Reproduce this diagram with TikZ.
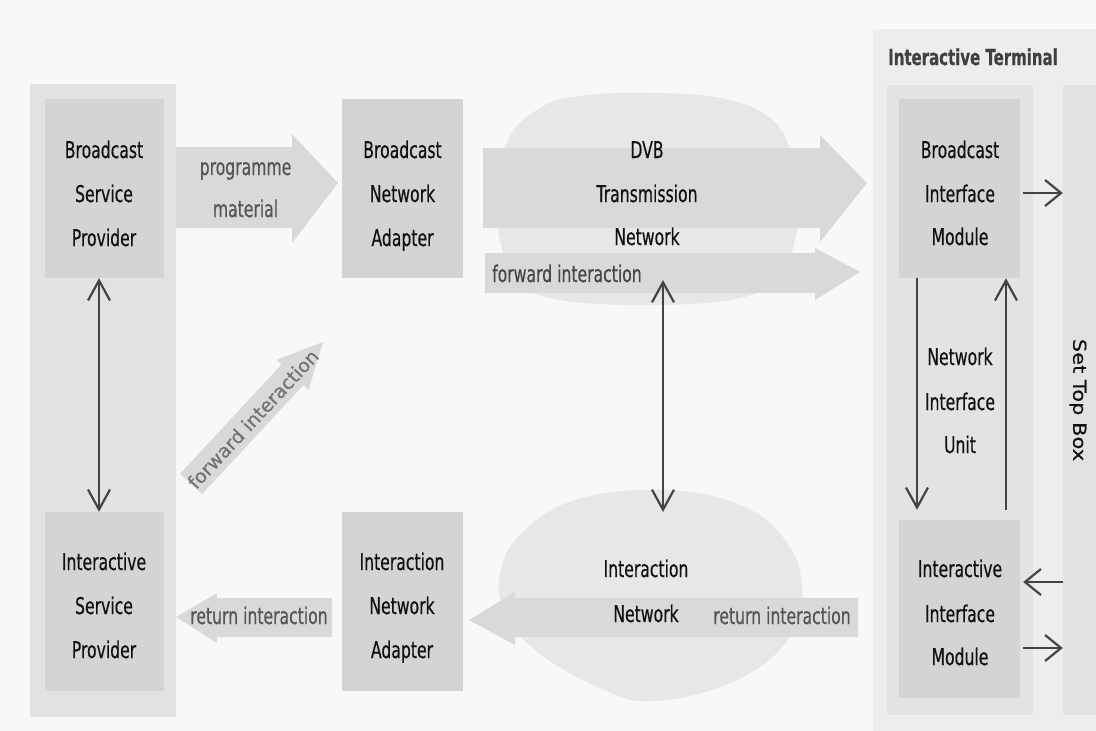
\documentclass[tikz,border=0pt]{standalone}
\usepackage{fontspec}
\usepackage{graphicx}
\setmainfont{DejaVu Sans}[FakeStretch=0.68,FakeBold=0.4]
\newfontfamily\plainfont{DejaVu Sans}[FakeBold=0.3]
\usetikzlibrary{arrows.meta}
\definecolor{bgc}{HTML}{F8F8F8}
\definecolor{colc}{HTML}{E2E2E2}
\definecolor{boxc}{HTML}{D4D4D4}
\definecolor{itc}{HTML}{EDEDED}
\definecolor{niuc}{HTML}{E3E3E3}
\definecolor{stbc}{HTML}{E2E2E2}
\definecolor{eggc}{HTML}{E7E7E7}
\definecolor{barc}{HTML}{D9D9D9}
\definecolor{txtc}{HTML}{111111}
\definecolor{lblc}{HTML}{555555}
\definecolor{linec}{HTML}{444444}
\tikzset{
  boxst/.style={fill=boxc, draw=none, inner sep=0pt, minimum width=120pt, minimum height=179pt},
  txt/.style={font=\fontsize{23}{27}\selectfont, text=txtc, inner sep=0pt, anchor=base},
  lbl/.style={font=\fontsize{23}{27}\selectfont, text=lblc, inner sep=0pt, anchor=base},
  lnk/.style={draw=linec, line width=2.2pt},
  vtip/.tip={Straight Barb[length=20pt,width=22pt]},
  htip/.tip={Straight Barb[length=16pt,width=26pt]},
}
\begin{document}
\begin{tikzpicture}[x=1pt,y=-1pt]
\useasboundingbox (0,0) rectangle (1096,731);
\fill[bgc] (0,0) rectangle (1096,731);
% columns
\fill[colc] (30,84) rectangle (176,717);
\fill[itc] (873,29) rectangle (1096,731);
\fill[niuc] (887,85) rectangle (1033,715);
\node[fill=stbc, inner sep=0pt, minimum width=33pt, minimum height=630pt] (stbcol) at (1079.5,400) {};
% network clouds
\fill[eggc] plot[smooth cycle, tension=0.7] coordinates {(645,93) (720,98) (770,118) (792,155) (800,200) (795,240) (780,275) (740,298) (645,305) (550,298) (515,275) (500,240) (497,195) (508,140) (540,108) (580,96)};
\fill[eggc] plot[smooth cycle, tension=0.7] coordinates {(663,490) (740,505) (785,540) (802,588) (790,637) (737,680) (655,701) (600,688) (535,650) (505,610) (500,575) (520,535) (575,500)};
% block arrows
\fill[barc] (176,147) -- (292,147) -- (292,134) -- (338,183) -- (292,243) -- (292,228) -- (176,228) -- cycle;
\fill[barc] (483,148) -- (820,148) -- (820,135) -- (867,183) -- (820,242) -- (820,228) -- (483,228) -- cycle;
\fill[barc] (485,253) -- (815,253) -- (815,248) -- (860,272) -- (815,300) -- (815,293) -- (485,293) -- cycle;
\fill[barc] (858,598) -- (515,598) -- (515,592) -- (469,620) -- (515,645) -- (515,637) -- (858,637) -- cycle;
\fill[barc] (332,598) -- (217,598) -- (217,593) -- (176,617) -- (217,643) -- (217,637) -- (332,637) -- cycle;
\fill[barc] (180,473.8) -- (281.5,364.6) -- (276.4,359.8) -- (323,342) -- (308.6,389.8) -- (303.5,385) -- (202,494.2) -- cycle;
% boxes
\node[boxst, minimum width=119pt] (bsp) at (104.5,188.5) {};
\node[boxst, minimum width=119pt] (isp) at (104.5,601.5) {};
\node[boxst, minimum width=121pt] (bna) at (402.5,188.5) {};
\node[boxst, minimum width=121pt] (ina) at (402.5,601.5) {};
\node[boxst, minimum width=121pt] (bim) at (959.5,188.5) {};
\node[boxst, minimum width=121pt, minimum height=178pt] (iim) at (959.5,609) {};
% texts
\node[txt] (bsp1) at (104,158) {Broadcast};
\node[txt] (bsp2) at (104,202) {Service};
\node[txt] (bsp3) at (104,246) {Provider};
\node[txt] (bna1) at (402.5,158) {Broadcast};
\node[txt] (bna2) at (402.5,202) {Network};
\node[txt] (bna3) at (402.5,246) {Adapter};
\node[txt] (dvb1) at (647,158) {DVB};
\node[txt] (dvb2) at (647,202) {Transmission};
\node[txt] (dvb3) at (647,245) {Network};
\node[txt] (bim1) at (960,158) {Broadcast};
\node[txt] (bim2) at (960,202) {Interface};
\node[txt] (bim3) at (960,245) {Module};
\node[txt] (niu1) at (960,365) {Network};
\node[txt] (niu2) at (960,410) {Interface};
\node[txt] (niu3) at (960,453) {Unit};
\node[txt] (isp1) at (104,570) {Interactive};
\node[txt] (isp2) at (104,614) {Service};
\node[txt] (isp3) at (104,658) {Provider};
\node[txt] (ina1) at (402,570) {Interaction};
\node[txt] (ina2) at (402,614) {Network};
\node[txt] (ina3) at (402,658) {Adapter};
\node[txt] (inet1) at (646,577) {Interaction};
\node[txt] (inet2) at (646,622) {Network};
\node[txt] (iim1) at (960,577) {Interactive};
\node[txt] (iim2) at (960,622) {Interface};
\node[txt] (iim3) at (960,665) {Module};
\node[lbl] (pm1) at (245.5,175) {programme};
\node[lbl] (pm2) at (245.5,217) {material};
\node[lbl, text=black!72, anchor=base west] (fwdh) at (492,282) {forward interaction};
\node[lbl] (ret1) at (782,624) {return interaction};
\node[lbl] (ret2) at (259,624) {return interaction};
\node[lbl, font=\plainfont\fontsize{19}{23}\selectfont, text=black!55, rotate=47, anchor=center] (fwdd) at (253,419) {forward interaction};
\node[font=\bfseries\fontsize{22}{26}\selectfont, text=black!75, inner sep=0pt, anchor=base west] (ittitle) at (888,65) {Interactive Terminal};
\node[font=\plainfont\fontsize{21}{25}\selectfont, text=txtc, inner sep=0pt, rotate=-90] (stb) at (1078,400) {\scalebox{1}[0.85]{Set Top Box}};
% connectors
\coordinate (dvbc) at (663,280);
\coordinate (inetc) at (663,512);
\draw[lnk, vtip-vtip] ([xshift=-5.5pt]bsp.south) -- ([xshift=-5.5pt]isp.north);
\draw[lnk, vtip-vtip] (dvbc) -- (inetc);
\draw[lnk, -vtip] ([xshift=-42.5pt]bim.south) -- ([xshift=-42.5pt,yshift=10pt]iim.north);
\draw[lnk, -vtip] ([xshift=46.5pt,yshift=10pt]iim.north) -- ([xshift=46.5pt]bim.south);
\draw[lnk, -htip] ([xshift=3pt,yshift=-4.5pt]bim.east) -- ([yshift=-4.5pt]bim.east -| stbcol.west);
\draw[lnk, -htip] ([yshift=27pt]iim.east -| stbcol.west) -- ([xshift=3pt,yshift=27pt]iim.east);
\draw[lnk, -htip] ([xshift=3pt,yshift=-39pt]iim.east) -- ([yshift=-39pt]iim.east -| stbcol.west);
\end{tikzpicture}
\end{document}
